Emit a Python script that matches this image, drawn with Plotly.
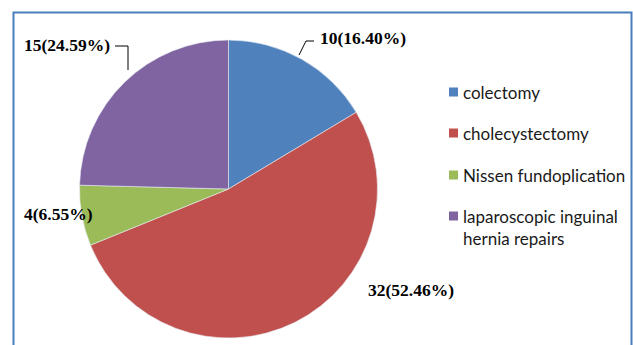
import plotly.graph_objects as go

categories = ["colectomy", "cholecystectomy", "Nissen fundoplication", "laparoscopic inguinal hernia repairs"]
legend_labels = ["colectomy", "cholecystectomy", "Nissen fundoplication", "laparoscopic inguinal<br>hernia repairs"]
counts = [10, 32, 4, 15]
percents = [16.40, 52.46, 6.55, 24.59]
colors = ["#4F81BD", "#C0504D", "#9BBB59", "#8064A2"]

W, H = 633, 345
def px(x):
    return x / W
def py(y):
    return 1 - y / H

pct_text = [f"{c}({p:.2f}%)" for c, p in zip(counts, percents)]

fig = go.Figure()
fig.add_trace(go.Pie(
    labels=categories, values=counts, sort=False, direction="clockwise", rotation=0,
    marker=dict(colors=colors, line=dict(color="#E8ECF4", width=0.6)),
    textinfo="none", hoverinfo="label+value+percent", showlegend=False,
    domain=dict(x=[px(79.5), px(377.5)], y=[py(338), py(40)]),
))

label_font = dict(family="Liberation Serif", size=17.5, color="#000000")
label_pos = [(318, 38), (366, 290), (22, 214), (22, 45)]
annotations = []
for txt, (x, y) in zip(pct_text, label_pos):
    annotations.append(dict(x=px(x), y=py(y), xref="paper", yref="paper", text=f"<b>{txt}</b>",
                            showarrow=False, xanchor="left", yanchor="middle", font=label_font))

# legend
leg_y = [92, 133, 175, 216]
leg_font = dict(family="Lato", size=17, color="#1a1a1a")
shapes = []
for lab, col, y in zip(legend_labels, colors, leg_y):
    shapes.append(dict(type="rect", xref="paper", yref="paper", x0=px(449), x1=px(458),
                       y0=py(y + 4.5), y1=py(y - 4.5), fillcolor=col, line=dict(width=0)))
    annotations.append(dict(x=px(461), y=py(y - 12.5), xref="paper", yref="paper", text=lab,
                            showarrow=False, xanchor="left", yanchor="top", align="left",
                            font=leg_font))

# leader lines
line_style = dict(color="#000000", width=1)
shapes.append(dict(type="path", xref="paper", yref="paper",
                   path=f"M {px(299)} {py(55)} L {px(306)} {py(41)} L {px(314)} {py(41)}",
                   line=line_style))
shapes.append(dict(type="path", xref="paper", yref="paper",
                   path=f"M {px(115)} {py(46)} L {px(128)} {py(46)} L {px(128)} {py(70)}",
                   line=line_style))

# chart border
shapes.append(dict(type="rect", xref="paper", yref="paper", x0=px(13.5), x1=px(631.5),
                   y0=py(360), y1=py(12.5), line=dict(color="#4A7EBB", width=2), layer="above"))

fig.update_layout(
    width=W, height=H, margin=dict(l=0, r=0, t=0, b=0),
    paper_bgcolor="white", plot_bgcolor="white",
    annotations=annotations, shapes=shapes, showlegend=False,
)

fig.write_html("out.html")
